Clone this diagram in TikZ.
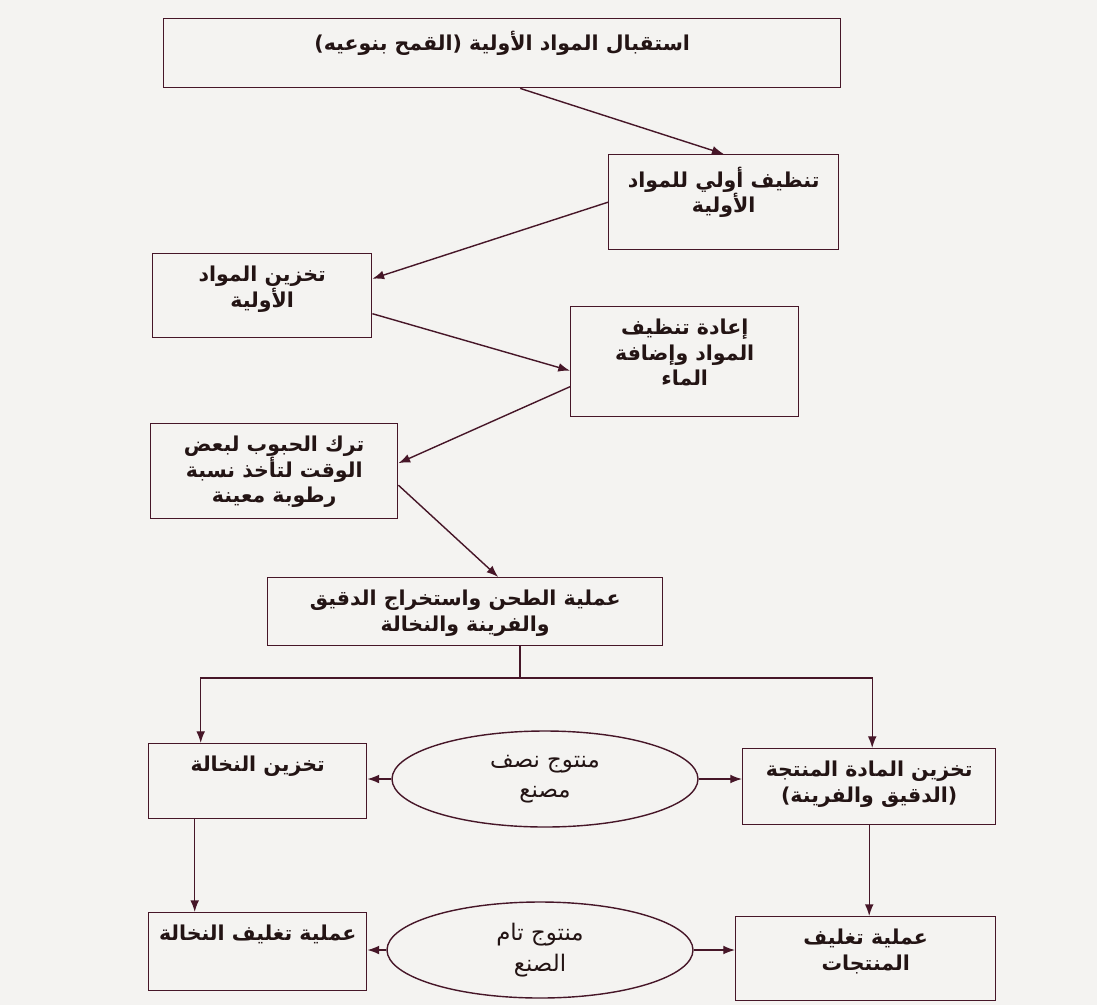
\documentclass[tikz,border=0pt]{standalone}
\usepackage{fontspec}
\newfontfamily\arabicfont[Script=Arabic]{DejaVu Sans}
\TeXXeTstate=1
\usetikzlibrary{arrows.meta,shapes,positioning,calc}
\definecolor{inkline}{RGB}{70,22,40}
\definecolor{inktext}{RGB}{35,20,20}
\definecolor{paper}{RGB}{244,243,241}
\newlength\px
\setlength\px{0.03cm}
\newcommand{\artxt}[1]{\beginR #1\endR}
\newcommand{\steptext}[3]{\parbox[c][#2\px][t]{#1\px}{\vspace*{12\px}\centering #3}}
\tikzset{
  basic/.style   = {draw=inkline, line width=1.2pt, text=inktext, inner sep=0pt},
  stepbox/.style = {basic, rectangle, anchor=north west,
  font=\arabicfont\bfseries\fontsize{17.5}{22}\selectfont},
  prodell/.style = {basic, ellipse, align=center, minimum width=306\px, minimum height=96\px,
  font=\arabicfont\fontsize{19.5}{26}\selectfont},
  flow/.style    = {draw=inkline, line width=1.2pt, -{Latex[length=10pt,width=7.5pt]}},
  joint/.style   = {draw=inkline, line width=1.2pt}
}

\begin{document}
\begin{tikzpicture}[x=0.03cm, y=-0.03cm]
\fill[paper] (0,0) rectangle (1097,1005);

\node[stepbox] (b1) at (163,18) {\steptext{677}{69}{\artxt{استقبال المواد الأولية (القمح بنوعيه)}}};
\node[stepbox] (b2) at (608,154) {\steptext{230}{95}{\artxt{تنظيف أولي للمواد}\\\artxt{الأولية}}};
\node[stepbox] (b3) at (152,253) {\steptext{219}{84}{\artxt{تخزين المواد}\\\artxt{الأولية}}};
\node[stepbox] (b4) at (570,306) {\steptext{228}{110}{\artxt{إعادة تنظيف}\\\artxt{المواد وإضافة}\\\artxt{الماء}}};
\node[stepbox] (b5) at (150,423) {\steptext{247}{95}{\artxt{ترك الحبوب لبعض}\\\artxt{الوقت لتأخذ نسبة}\\\artxt{رطوبة معينة}}};
\node[stepbox] (b6) at (267,577) {\steptext{395}{68}{\artxt{عملية الطحن واستخراج الدقيق}\\\artxt{والفرينة والنخالة}}};
\node[stepbox] (b7) at (148,743) {\steptext{218}{75}{\artxt{تخزين النخالة}}};
\node[stepbox] (b8) at (742,748) {\steptext{253}{76}{\artxt{تخزين المادة المنتجة}\\\artxt{(الدقيق والفرينة)}}};
\node[stepbox] (b9) at (148,912) {\steptext{218}{78}{\artxt{عملية تغليف النخالة}}};
\node[stepbox] (b10) at (735,916) {\steptext{260}{84}{\artxt{عملية تغليف}\\\artxt{المنتجات}}};

\node[prodell] (e1) at (545,779) {\artxt{منتوج نصف}\\\artxt{مصنع}};
\node[prodell] (e2) at (540,950) {\artxt{منتوج تام}\\\artxt{الصنع}};

\coordinate (split) at (520,678);

\draw[flow] ([xshift=18\px]b1.south) -- (b2.north);
\draw[flow] (b2.west) -- ([yshift=17\px]b3.east);
\draw[flow] ([yshift=-18\px]b3.east) -- ([yshift=-9\px]b4.west);
\draw[flow] ([yshift=-25\px]b4.west) -- ([yshift=8\px]b5.east);
\draw[flow] ([yshift=-14\px]b5.east) -- ([xshift=33\px]b6.north);

\draw[joint] (split |- b6.south) -- (split);
\draw[flow] (split) -| ([xshift=-57\px]b7.north);
\draw[flow] (split) -| ([xshift=3\px]b8.north);

\draw[flow] (e1.west) -- (e1.west -| b7.east);
\draw[flow] (e1.east) -- (e1.east -| b8.west);
\draw[flow] ([xshift=-63\px]b7.south) -- ([xshift=-63\px]b7.south |- b9.north);
\draw[flow] (b8.south) -- (b8.south |- b10.north);
\draw[flow] (e2.west) -- (e2.west -| b9.east);
\draw[flow] (e2.east) -- (e2.east -| b10.west);
\end{tikzpicture}
\end{document}
